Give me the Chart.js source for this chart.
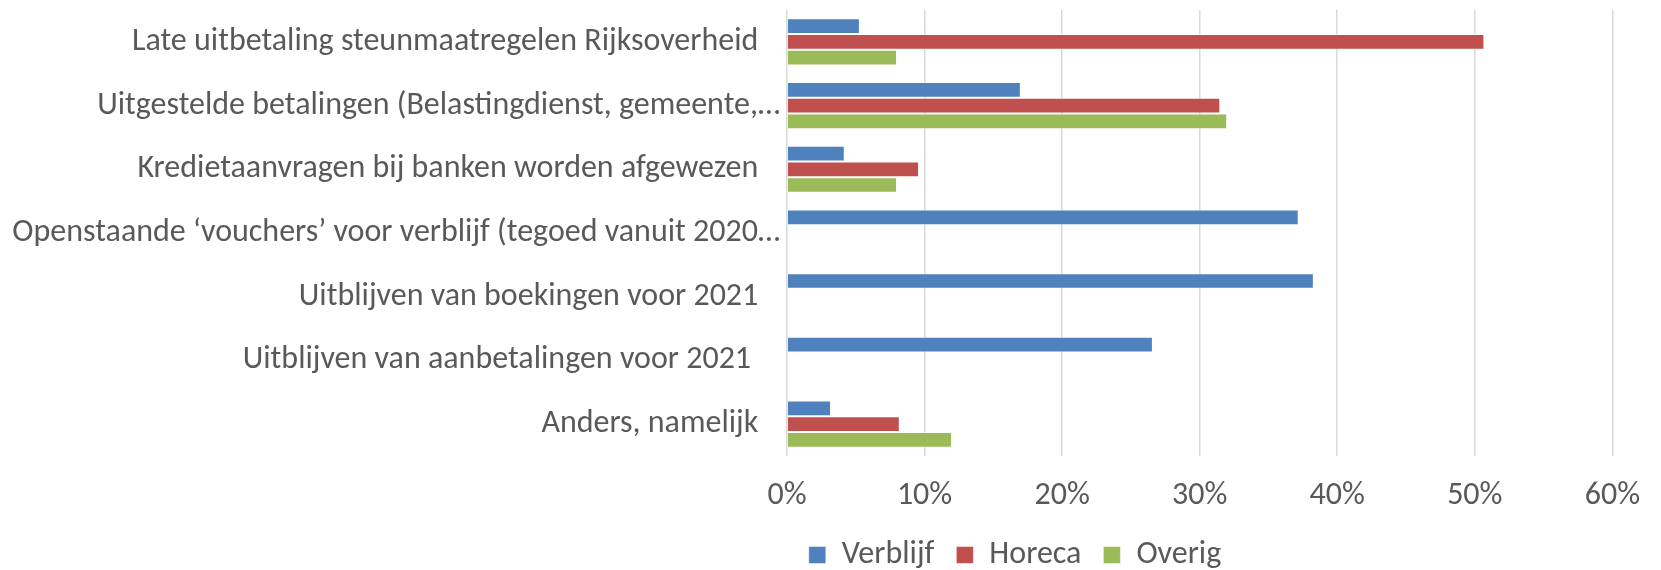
<!DOCTYPE html>
<html>
<head>
<meta charset="utf-8">
<script src="https://cdn.jsdelivr.net/npm/chart.js@4"></script>
<style>
  html, body { margin: 0; padding: 0; background: #fff; }
  #wrap { width: 1661px; height: 570px; }
</style>
</head>
<body>
<div id="wrap"><canvas id="grafiek"></canvas></div>
<script>
// categorieën (trailing spaces zoals in het origineel)
const categorieen = [
  "Late uitbetaling steunmaatregelen Rijksoverheid   ",
  "Uitgestelde betalingen (Belastingdienst, gemeente,…",
  "Kredietaanvragen bij banken worden afgewezen   ",
  "Openstaande ‘vouchers’ voor verblijf (tegoed vanuit 2020…",
  "Uitblijven van boekingen voor 2021   ",
  "Uitblijven van aanbetalingen voor 2021    ",
  "Anders, namelijk   "
];
const verblijf = [5.3, 17.0, 4.2, 37.2, 38.3, 26.6, 3.2];
const horeca   = [50.7, 31.5, 9.6, null, null, null, 8.2];
const overig   = [8.0, 32.0, 8.0, null, null, null, 12.0];
const xTicks = [0, 10, 20, 30, 40, 50, 60];

const FONT = "Carlito, 'Open Sans', sans-serif";
const tekst = "#595959";

// legenda iets naar rechts schuiven, zoals in Excel
const legendaPlek = {
  id: "legendaPlek",
  afterLayout(chart) {
    const lg = chart.legend;
    const dx = 1015 - (lg.left + lg.right) / 2;
    lg.left += dx; lg.right += dx;
    const dy = 549 - (lg.top + lg.bottom) / 2;
    lg.top += dy; lg.bottom += dy;
  }
};

new Chart(document.getElementById("grafiek"), {
  type: "bar",
  data: {
    labels: categorieen,
    datasets: [
      { label: "Verblijf", data: verblijf, backgroundColor: "#4F81BD" },
      { label: "Horeca", data: horeca, backgroundColor: "#C0504D" },
      { label: "Overig", data: overig, backgroundColor: "#9BBB59" }
    ]
  },
  options: {
    indexAxis: "y",
    responsive: true,
    maintainAspectRatio: false,
    animation: false,
    datasets: { bar: { categoryPercentage: 0.74, barPercentage: 1, borderWidth: 1, borderColor: "rgba(255,255,255,0.45)" } },
    layout: { padding: { top: 10, right: 44, left: 0, bottom: 0 } },
    scales: {
      x: {
        min: 0, max: 60,
        afterBuildTicks: s => { s.ticks = xTicks.map(v => ({ value: v })); },
        afterFit: s => { s.height = 50; },
        grid: { color: "#d9d9d9", lineWidth: 1.5, drawTicks: false },
        border: { display: false },
        ticks: { color: tekst, font: { family: FONT, size: 32 }, padding: 21, maxRotation: 0, callback: v => v + "%" }
      },
      y: {
        afterFit: s => { s.width = 787; s.paddingTop = 0; s.paddingBottom = 0; },
        grid: { display: false, drawTicks: false },
        border: { display: false },
        ticks: { color: tekst, font: { family: FONT, size: 32 }, padding: 7 }
      }
    },
    plugins: {
      legend: {
        position: "bottom",
        labels: { color: tekst, font: { family: FONT, size: 32 }, boxWidth: 17, boxHeight: 17, padding: 22 }
      },
      tooltip: { enabled: false }
    }
  },
  plugins: [legendaPlek]
});
</script>
</body>
</html>
